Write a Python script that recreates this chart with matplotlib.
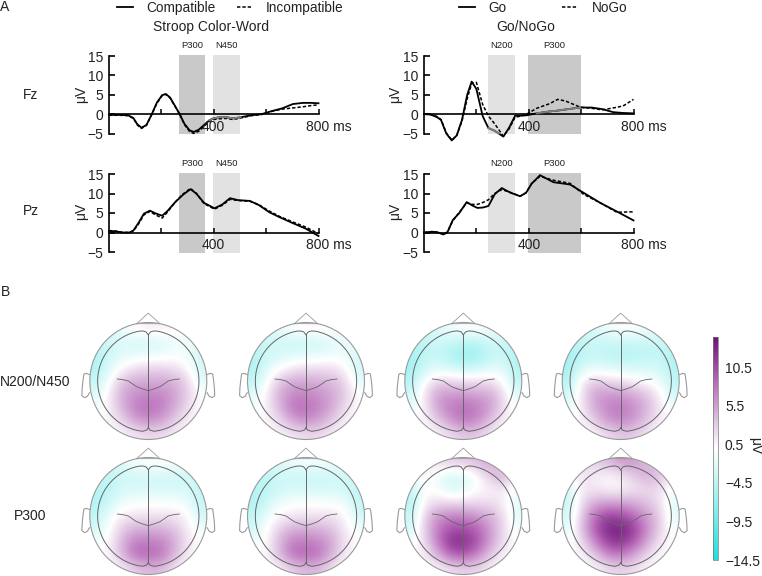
import numpy as np
import matplotlib
matplotlib.use('Agg')
import matplotlib.pyplot as plt
from matplotlib.colors import LinearSegmentedColormap
from matplotlib.patches import Circle

plt.rcParams['font.family'] = ['Liberation Sans', 'DejaVu Sans']
plt.rcParams['font.size'] = 10
plt.rcParams['text.color'] = '#222222'

W, H = 762, 576

# ERP traces (ms, microvolt)
t_fz_stroop = [0, 43, 73, 93, 108, 124, 143, 162, 183, 203, 217, 233, 253, 270, 288, 308, 324, 343, 363, 383, 398, 423, 449, 473, 503, 543, 583, 622, 662, 702, 741, 771, 800]
fz_compatible = [-0.2, -0.2, -0.3, -1, -2.6, -3.5, -2.8, -0.2, 3, 4.9, 5.2, 4.3, 2, 0, -2.5, -4.2, -4.6, -4, -2.8, -1.6, -1.1, -0.8, -0.8, -1.1, -0.8, -0.3, 0, 0.8, 1.5, 2.6, 2.9, 2.9, 2.8]
fz_incompatible = [-0.3, -0.3, -0.4, -1.1, -2.8, -3.7, -2.9, -0.3, 2.8, 4.8, 5.1, 4.2, 1.9, -0.1, -2.7, -4.5, -5, -4.4, -3.1, -1.9, -1.4, -1.2, -1.1, -1.4, -1, -0.4, -0.1, 0.7, 1.3, 1.6, 1.9, 2.2, 2.4]

t_pz_stroop = [0, 23, 53, 78, 93, 113, 133, 156, 178, 203, 223, 253, 283, 311, 333, 363, 403, 433, 462, 493, 538, 573, 612, 652, 702, 751, 800]
pz_compatible = [0.4, 0.3, 0, 0, 0.5, 2.5, 4.8, 5.6, 4.9, 4.3, 5.5, 7.8, 9.7, 11.1, 10, 7.6, 6.2, 7.2, 8.8, 8.3, 8.1, 7, 5.2, 3.9, 2.4, 1, -0.9]
pz_incompatible = [0.5, 0.4, 0, 0, 0.4, 2.2, 4.5, 5.4, 4.5, 3.7, 5.2, 7.8, 9.9, 11.3, 10.1, 7.4, 6, 7, 8.5, 8.2, 8, 7.1, 5.5, 4.1, 2.7, 1.4, -0.3]

t_fz_go = [0, 25, 50, 65, 85, 106, 125, 145, 165, 182, 200, 224, 246, 270, 303, 325, 348, 370, 392, 430, 480, 510, 540, 596, 640, 680, 723, 760, 800]
fz_go = [0, -0.1, -0.8, -1.5, -5, -6.8, -5.5, -1.5, 5, 8.4, 6.5, -0.5, -3.6, -4.3, -5.8, -3.5, -0.4, -0.4, -0.3, 0.2, 0.7, 0.9, 1.2, 1.7, 1.7, 1.3, 0.5, 0.3, 0.2]
fz_nogo = [0, -0.1, -0.6, -1.4, -4.8, -6.7, -5.5, -1.8, 4, 7.9, 8.2, 2.5, -0.5, -2.5, -5.7, -3.8, -0.8, -0.5, 0, 1.5, 2.7, 3.8, 3.4, 1.8, 1.5, 1.1, 1.6, 2.1, 3.8]

t_pz_go = [0, 30, 50, 74, 89, 110, 135, 163, 185, 204, 225, 246, 270, 297, 330, 367, 390, 411, 443, 494, 558, 609, 673, 736, 800]
pz_go = [0, 0.2, 0.1, -0.5, 0, 3.2, 5, 7.8, 6.9, 6.3, 6.4, 6.8, 9.8, 11.4, 10.2, 9.3, 10.2, 12.5, 14.7, 12.9, 12.3, 10.2, 7.6, 5.4, 3.1]
pz_nogo = [0, 0.2, 0, -0.4, 0.1, 3, 5.2, 7.6, 7.2, 7.2, 7.7, 8.4, 10, 11, 10.3, 9.3, 10.2, 12.6, 14.4, 13.4, 12.6, 9.8, 7.6, 5.2, 5.3]

x_ticks = [200, 400, 600, 800]
y_ticks = [-5, 0, 5, 10, 15]

# scalp values, front of head in the first row, left of head in the first column
map_n2_comp = [
    [-3, -3, -1, 0.5, 1, 1, 0.5, -1, -2],
    [-4, -3, -2, -3, -3, -2.5, -1, -1, -2],
    [-5, -3, -2, -1.5, -1, -1, -0.5, -1, -3],
    [-5, -2, 0.5, 2, 2.5, 2.5, 2, 0.5, -3],
    [-4, 0, 3.5, 5, 5, 5, 4.5, 2.5, -2],
    [-2, 1, 5, 6.5, 7, 7, 5.5, 3, 0],
    [-1, 1, 4.5, 7.5, 8.5, 7.5, 5, 2, 0],
    [0, 0.5, 2.5, 5.5, 6.5, 5.5, 3, 1, 0],
    [0, 0, 0.5, 1.5, 2, 2, 1, 0, 0]]
map_n2_incomp = [
    [-3, -3, -1, 0, 0.5, 0.5, 0, -1, -2],
    [-4, -3, -3, -3.5, -3.5, -3, -2, -1, -2],
    [-5, -3, -2.5, -2, -1.5, -1.5, -1, -1, -3],
    [-5, -2, 0, 1.5, 2, 2, 2, 0.5, -3],
    [-4, 0, 3.5, 5, 5, 4.5, 4, 2.5, -2],
    [-2, 1, 5, 7, 7, 6.5, 5, 3, 0],
    [-1, 1, 4.5, 8, 8.5, 7, 5, 2, 0],
    [0, 0.5, 2.5, 5.5, 6.5, 5.5, 3, 1, 0],
    [0, 0, 0.5, 1.5, 2, 2, 1, 0, 0]]
map_n2_go = [
    [-3, -3, -2, -1, 0, 0, -1, -2, -3],
    [-5, -4, -3, -3.5, -4.5, -4.5, -3, -3, -4],
    [-6, -4, -3.5, -5, -6.5, -6, -4, -3.5, -5],
    [-6, -3, -2, -2.5, -3.5, -3, -2, -1.5, -5],
    [-5, 0, 2.5, 2.5, 2, 2, 2, 0.5, -4],
    [-3, 1.5, 5.5, 6, 6, 5.5, 5, 2.5, -2],
    [-2, 1, 5.5, 7.5, 8.5, 7.5, 6, 2.5, -1],
    [0, 0.5, 3, 6, 8, 7, 4, 1, 0],
    [0, 0, 0.5, 2, 3, 3, 1.5, 0, 0]]
map_n2_nogo = [
    [-3, -3, -2, -1, 0, 0, -1, -2, -3],
    [-5, -4, -3.5, -3.5, -3.5, -3.5, -3.5, -3, -4],
    [-6, -4, -3.5, -4, -4.5, -4.5, -4, -4, -5],
    [-6, -2.5, -1.5, -2, -2.5, -2.5, -2.5, -2.5, -5],
    [-5, 1, 3, 2.5, 2, 1, 0, -1, -4],
    [-3, 1.5, 5.5, 6, 6, 5, 3.5, 1, -3],
    [-2, 1, 5, 7, 8, 6.5, 4.5, 1.5, -1],
    [0, 0.5, 3, 6, 7, 6, 3.5, 1, 0],
    [0, 0, 0.5, 2, 3, 3, 1.5, 0, 0]]
map_p3_comp = [
    [-3, -3, -2, -0.5, 0, 0, -0.5, -2, -3],
    [-4, -4, -3, -3, -3, -3, -3, -3, -3],
    [-5, -4, -2.5, -2.5, -2.5, -2.5, -2.5, -2.5, -4],
    [-5, -3, -1, -0.5, -0.3, -0.3, -0.5, -1, -4],
    [-4, -1, 1, 1.5, 1.5, 1.5, 1.5, 0.5, -3],
    [-3, 0, 3, 4.5, 4.5, 4.5, 3.5, 1, -1],
    [-1, 0.5, 4.5, 7.5, 7.5, 7, 5, 1.5, 0],
    [0, 0.5, 4.5, 8.5, 9, 8, 4.5, 1, 0],
    [0, 0, 1, 3, 4, 4, 1.5, 0, 0]]
map_p3_incomp = [
    [-3, -3, -2, -1, -0.5, -0.5, -1, -2, -3],
    [-4, -4, -3, -3.5, -3.5, -3.5, -3, -3, -3],
    [-5, -4, -3, -2.5, -2.5, -2.5, -2.5, -3, -4],
    [-5, -3, -1, -0.5, -0.3, -0.3, -0.5, -1, -4],
    [-4, -1, 0.5, 1.5, 1.5, 1.5, 1.5, 0.5, -3],
    [-3, 0, 3, 4.5, 4.5, 4.5, 3.5, 1, -1],
    [-1, 0.5, 4.5, 7.5, 7.5, 7, 5, 1.5, 0],
    [0, 0.5, 4.5, 8.5, 9, 8, 4.5, 1, 0],
    [0, 0, 1, 3, 4, 4, 1.5, 0, 0]]
map_p3_go = [
    [1, 1, 2, 3, 3, 4, 5, 3, 1],
    [-1, 1, -1, -3, -2.5, -0.5, 3, 5, 1],
    [-4, 0, -0.5, -2.5, -2, 0, 0.5, 1.5, -1],
    [-5, 1, 2, 2, 2, 2, 2, 1, -2],
    [-4, 2.5, 6, 7, 7, 6, 4.5, 2.5, -2],
    [-3, 3, 7.5, 10, 10.5, 9, 6, 2.5, -1],
    [-1, 2, 7.5, 12.5, 12.5, 10.5, 6, 2, 0],
    [0, 1, 4.5, 9, 10, 7.5, 3.5, 1, 0],
    [0, 0, 0.5, 2, 2.5, 2.5, 1, 0, 0]]
map_p3_nogo = [
    [1, 1, 3, 4, 6, 6, 4, 3, 1],
    [0, 2, 1, 0.5, 1, 3, 5, 4, 1],
    [-3, 1, 1.5, 0.5, 0.5, 1.5, 2, 2, -1],
    [-4, 2, 4.5, 5, 5, 4.5, 3.5, 2, -2],
    [-3, 3, 8, 11, 10.5, 8.5, 5.5, 3, -2],
    [-2, 3.5, 9.5, 13, 13.5, 11.5, 7, 3, -1],
    [-1, 2, 7, 11.5, 12.5, 10, 5.5, 1.5, 0],
    [0, 0.5, 3, 7, 8, 5.5, 2.5, 0.5, 0],
    [0, 0, 0.5, 2, 2.5, 2, 0.5, 0, 0]]

map_rows = [
    [map_n2_comp, map_n2_incomp, map_n2_go, map_n2_nogo],
    [map_p3_comp, map_p3_incomp, map_p3_go, map_p3_nogo]]
head_x = [148.3, 306, 463.3, 620.7]
head_y = [381, 516]
head_r = 58.5

cbar_ticks = [-14.5, -9.5, -4.5, 0.5, 5.5, 10.5]
cm = LinearSegmentedColormap.from_list('cw', [(0, '#1fdede'), (0.5, '#ffffff'), (0.65, '#d9b5db'),
                                              (0.8, '#b868b8'), (1, '#6e0f78')])


def add_px_axes(x0, y0, x1, y1):
    return fig.add_axes([x0 / W, 1 - y1 / H, (x1 - x0) / W, (y1 - y0) / H])


def ftext(x, y, s, **kw):
    kw.setdefault('ha', 'center')
    kw.setdefault('va', 'center')
    fig.text(x / W, 1 - y / H, s, **kw)


def erp(x0, y0, y1, t, a, b, spans, grey_parts=()):
    ax = add_px_axes(x0, y0, x0 + 209.5, y1)
    ax.set_xlim(0, 800)
    ax.set_ylim(-5, 15)
    ax.patch.set_alpha(0)
    for s in spans:
        ax.fill_between([s[0], s[1]], -5.2, 15.2, color=s[2], lw=0, clip_on=False, zorder=1)
    ax.plot(t, b, color='k', lw=1.1, ls=(0, (2.2, 1.3)), zorder=3, clip_on=False)
    ax.plot(t, a, color='k', lw=1.3, zorder=4, clip_on=False)
    tt = np.array(t)
    aa = np.array(a)
    for g0, g1 in grey_parts:
        m = (tt >= g0) & (tt <= g1)
        ax.plot(tt[m], aa[m], color='#808080', lw=1.3, zorder=4)
    for k in ['top', 'right']:
        ax.spines[k].set_visible(False)
    ax.spines['bottom'].set_position(('data', 0))
    ax.spines['bottom'].set_linewidth(1.2)
    ax.spines['left'].set_linewidth(1.2)
    ax.set_xticks(x_ticks)
    ax.set_xticklabels([])
    ax.tick_params(axis='x', direction='in', length=3.5, width=1.1)
    ax.set_yticks(y_ticks)
    ax.set_yticklabels(['\u22125', '0', '5', '10', '15'])
    ax.tick_params(axis='y', direction='in', length=4.5, width=1.2, pad=4, labelsize=10, labelcolor='#222222')
    ax.text(400, -3.3, '400', ha='center', va='center', fontsize=10, zorder=5)
    ax.text(838, -3.3, '800 ms', ha='center', va='center', fontsize=10, clip_on=False)
    return ax


def head(ax, z):
    ax.set_xlim(-1.23, 1.23)
    ax.set_ylim(1.23, -1.23)
    ax.axis('off')
    im = ax.imshow(z, cmap=cm, vmin=-14.5, vmax=14.5, extent=[-1, 1, 1, -1], interpolation='bicubic', zorder=1)
    im.set_clip_path(Circle((0, 0), 1, transform=ax.transData))
    grey = '#9a9a9a'
    dark = '#666666'
    ax.add_patch(Circle((0, 0), 1, fill=False, ec=grey, lw=0.8, zorder=3))
    # nose and ears
    ax.plot([-0.2, 0, 0.2, -0.2], [-0.98, -1.16, -0.98, -0.98], color=grey, lw=0.6, zorder=2)
    ear_x = np.array([1.005, 1.06, 1.10, 1.115, 1.13, 1.135, 1.09, 1.04, 1.005])
    ear_y = np.array([-0.11, -0.13, -0.12, -0.02, 0.12, 0.25, 0.285, 0.26, 0.20])
    ax.plot(ear_x, ear_y, color=grey, lw=0.8, zorder=2)
    ax.plot(-ear_x, ear_y, color=grey, lw=0.8, zorder=2)
    # lobes with notches on the midline
    ang = np.radians(np.linspace(10, 168, 80))
    for sx in [-1, 1]:
        xs = np.concatenate([[0.0, 0.04, 0.09], 0.866 * np.sin(ang), [0.1, 0.03, 0.0]])
        ys = np.concatenate([[-0.79, -0.84, -0.855], -0.866 * np.cos(ang), [0.86, 0.84, 0.80]])
        ax.plot(sx * xs, ys, color=dark, lw=0.7, zorder=3)
    ax.plot([0, 0], [-0.79, 0.80], color=dark, lw=0.7, zorder=3)
    sx = np.array([-0.53, -0.44, -0.34, -0.27, -0.2, -0.1, 0, 0.1, 0.2, 0.27, 0.34, 0.44, 0.53])
    sy = np.array([-0.034, -0.025, 0, 0.05, 0.097, 0.135, 0.165, 0.135, 0.097, 0.05, 0, -0.025, -0.034])
    ax.plot(sx, sy, color=dark, lw=0.6, zorder=3)
    return im


fig = plt.figure(figsize=(W / 100, H / 100), dpi=100)

dark_band = '#c9c9c9'
light_band = '#e2e2e2'
stroop_spans = [(266, 366, dark_band), (398, 500, light_band)]
gonogo_spans = [(246, 348, light_band), (397, 600, dark_band)]

ax1 = erp(109, 56, 133.5, t_fz_stroop, fz_compatible, fz_incompatible, stroop_spans, [(383, 503)])
ax2 = erp(109, 174, 252, t_pz_stroop, pz_compatible, pz_incompatible, stroop_spans)
ax3 = erp(424, 56, 133.5, t_fz_go, fz_go, fz_nogo, gonogo_spans, [(246, 303), (430, 596)])
ax4 = erp(424, 174, 252, t_pz_go, pz_go, pz_nogo, gonogo_spans)

# legends above the two columns
h1 = plt.Line2D([], [], color='k', lw=1.3)
h2 = plt.Line2D([], [], color='k', lw=1.1, ls=(0, (2.2, 1.3)))
fig.legend([h1, h2], ['Compatible', 'Incompatible'], ncol=2, frameon=False, loc='center left',
           bbox_to_anchor=(117 / W, 1 - 8 / H), borderpad=0, borderaxespad=0,
           handlelength=1.15, handletextpad=1.0, columnspacing=1.55, fontsize=9.8)
fig.legend([h1, h2], ['Go', 'NoGo'], ncol=2, frameon=False, loc='center left',
           bbox_to_anchor=(459 / W, 1 - 8 / H), borderpad=0, borderaxespad=0,
           handlelength=1.15, handletextpad=1.0, columnspacing=4.1, fontsize=9.8)

ftext(211, 27, 'Stroop Color-Word')
ftext(526, 27, 'Go/NoGo')
ftext(5, 7, 'A')
ftext(5, 292, 'B')
ftext(31, 95, 'Fz')
ftext(31, 211, 'Pz')
ftext(35, 382, 'N200/N450')
ftext(30, 516, 'P300')
for y in [94, 211]:
    ftext(81, y, '\u03bcV', rotation=90)
    ftext(395, y, '\u03bcV', rotation=90)
for y in [45, 163]:
    ftext(192, y, 'P300', fontsize=6.8)
    ftext(226, y, 'N450', fontsize=6.8)
    ftext(502, y, 'N200', fontsize=6.8)
    ftext(554, y, 'P300', fontsize=6.8)

for r, cy in enumerate(head_y):
    for c, cx in enumerate(head_x):
        d = 1.23 * head_r
        hax = add_px_axes(cx - d, cy - d, cx + d, cy + d)
        im = head(hax, map_rows[r][c])

cax = add_px_axes(713.3, 336.7, 718, 560)
cb = fig.colorbar(im, cax=cax)
cb.set_ticks(cbar_ticks)
cb.set_ticklabels(['\u221214.5', '\u22129.5', '\u22124.5', '0.5', '5.5', '10.5'])
cb.ax.tick_params(length=0, pad=5, labelsize=10, labelcolor='#222222')
cb.outline.set_linewidth(0.5)
cb.outline.set_edgecolor('#777777')
ftext(755, 446, '\u03bcV', rotation=270)

fig.savefig('out.png', dpi=100)
